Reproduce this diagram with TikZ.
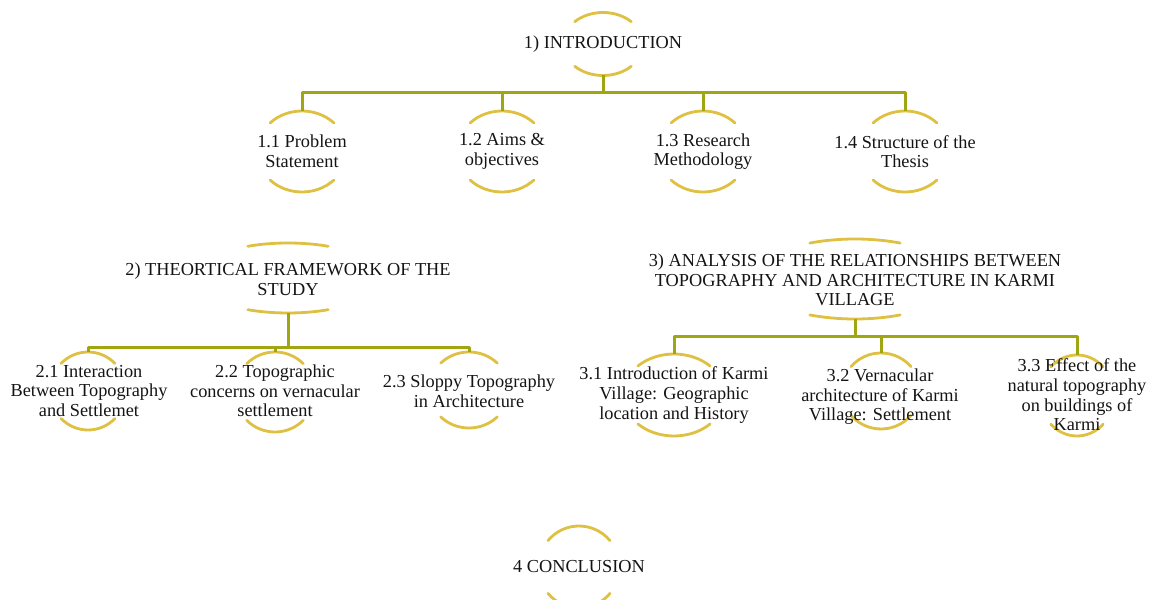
\documentclass[tikz,border=0pt]{standalone}
\usepackage{fontspec}
\setmainfont{Liberation Serif}
\usepackage{xcolor}
\usepackage{tikz}
\usetikzlibrary{calc,shapes.geometric}
\definecolor{RingGold}{RGB}{222,192,66}
\definecolor{LinkOlive}{RGB}{160,166,18}
\definecolor{TxtGray}{RGB}{20,20,20}
\tikzset{
  ring/.style ={ellipse, draw=none, inner sep=0pt, outer sep=0pt},
  ringarc/.style ={draw=RingGold, line width=2.8pt, line cap=round},
  link/.style ={draw=LinkOlive, line width=3pt},
  txt/.style ={align=center, text=TxtGray, inner sep=1pt,
    font=\fontsize{18.3}{19.6}\selectfont},
}
% top and bottom arcs of a ring: name, x radius, y radius, start angle
\newcommand{\ringarcs}[4]{%
  \draw[ringarc] ([shift={(#4:#2pt and #3pt)}]#1.center)
    arc[start angle=#4, end angle=180-#4, x radius=#2pt, y radius=#3pt];
  \draw[ringarc] ([shift={(180+#4:#2pt and #3pt)}]#1.center)
    arc[start angle=180+#4, end angle=360-#4, x radius=#2pt, y radius=#3pt];
}

\begin{document}
\begin{tikzpicture}[
  x=1pt,y=1pt,
  line join=round
]

% --- Frame ---------------------------------------------------------------
\useasboundingbox (0,0) rectangle (1160,600);

% --- Rings ---------------------------------------------------------------
\node[ring, minimum width=80pt,  minimum height=63pt] (intro) at (603,556) {};
\node[ring, minimum width=90pt,  minimum height=81pt] (p11) at (302,448.5) {};
\node[ring, minimum width=90pt,  minimum height=81pt] (p12) at (502,448.5) {};
\node[ring, minimum width=90pt,  minimum height=81pt] (p13) at (703,448.5) {};
\node[ring, minimum width=90pt,  minimum height=81pt] (p14) at (905,448.5) {};

\node[ring, minimum width=190pt, minimum height=70pt] (theory) at (288,322) {};
\node[ring, minimum width=76pt,  minimum height=78pt] (p21) at (88,209) {};
\node[ring, minimum width=80pt,  minimum height=80pt] (p22) at (275,208) {};
\node[ring, minimum width=80pt,  minimum height=76pt] (p23) at (469,210) {};

\node[ring, minimum width=206pt, minimum height=80pt] (analysis) at (855,321) {};
\node[ring, minimum width=102pt, minimum height=82pt] (p31) at (674,205) {};
\node[ring, minimum width=78pt,  minimum height=76pt] (p32) at (881,209) {};
\node[ring, minimum width=74pt,  minimum height=81pt] (p33) at (1077,204.5) {};

\node[ring, minimum width=81pt,  minimum height=82pt] (concl) at (579,33) {};

\ringarcs{intro}{40}{31.5}{45}
\ringarcs{p11}{45}{40.5}{45}
\ringarcs{p12}{45}{40.5}{45}
\ringarcs{p13}{45}{40.5}{45}
\ringarcs{p14}{45}{40.5}{45}
\ringarcs{theory}{95}{35}{65}
\ringarcs{p21}{38}{39}{45}
\ringarcs{p22}{40}{40}{45}
\ringarcs{p23}{40}{38}{45}
\ringarcs{analysis}{103}{40}{64}
\ringarcs{p31}{51}{41}{45}
\ringarcs{p32}{39}{38}{40}
\ringarcs{p33}{37}{40.5}{45}
\ringarcs{concl}{40.5}{41}{40}

% --- Texts ---------------------------------------------------------------
\node[txt] (intro-t) at (603,556) {1) INTRODUCTION};
\node[txt] (p11-t) at (302,448.5) {1.1 Problem\\Statement};
\node[txt] (p12-t) at (502,448.5) {1.2 Aims \&\\objectives};
\node[txt] (p13-t) at (703,448.5) {1.3 Research\\Methodology};
\node[txt] (p14-t) at (905,448.5) {1.4 Structure of the\\Thesis};

\node[txt] (theory-t) at (288,321) {2) THEORTICAL FRAMEWORK OF THE\\STUDY};
\node[txt] (p21-t) at (89,209) {2.1 Interaction\\Between Topography\\and Settlemet};
\node[txt] (p22-t) at (275,209) {2.2 Topographic\\concerns on vernacular\\settlement};
\node[txt] (p23-t) at (469,209) {2.3 Sloppy Topography\\in Architecture};

\node[txt] (analysis-t) at (855,320)
  {3) ANALYSIS OF THE RELATIONSHIPS BETWEEN\\TOPOGRAPHY AND ARCHITECTURE IN KARMI\\VILLAGE};
\node[txt] (p31-t) at (674,205) {3.1 Introduction of Karmi\\Village: Geographic\\location and History};
\node[txt] (p32-t) at (880,203) {3.2 Vernacular\\architecture of Karmi\\Village: Settlement};
\node[txt] (p33-t) at (1077,205) {3.3 Effect of the\\natural topography\\on buildings of\\Karmi};

\node[txt] (concl-t) at (579,33) {4 CONCLUSION};

% --- Connectors ----------------------------------------------------------
\coordinate (bus1) at (603,507);
\coordinate (bus2) at (288,252);
\coordinate (bus3) at (855,263);

\draw[link] (intro.south) -- (bus1);
\foreach \n in {p11,p12,p13,p14}
  \draw[link] (bus1) -| (\n.north);

\draw[link] (theory.south) -- (bus2);
\foreach \n in {p21,p22,p23}
  \draw[link] (bus2) -| (\n.north);

\draw[link] (analysis.south) -- (bus3);
\foreach \n in {p31,p32,p33}
  \draw[link] (bus3) -| (\n.north);

\end{tikzpicture}
\end{document}
